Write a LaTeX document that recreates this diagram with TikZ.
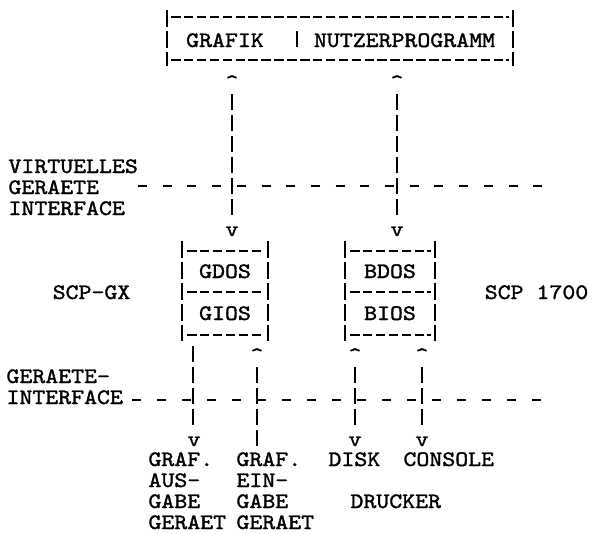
\documentclass[tikz,border=0pt]{standalone}
\usepackage{fontspec}
\usetikzlibrary{calc}
\newfontfamily\tw{lmmono10-regular}[Extension=.otf, FakeStretch=1.12, FakeBold=1.5]
\tikzset{
  txt/.style={font=\tw\fontsize{22}{22}\selectfont, inner sep=0pt, outer sep=0pt, anchor=base},
  txtl/.style={txt, anchor=base west},
  vbar/.style={line width=1.7pt, dash pattern=on 16pt off 5pt},
  sidebar/.style={line width=1.7pt, dash pattern=on 17pt off 4pt},
  hdash/.style={line width=1.8pt, dash pattern=on 9.5pt off 3.4pt},
  ifdash/.style={line width=1.8pt, dash pattern=on 9pt off 15.7pt},
  ifdashb/.style={line width=1.8pt, dash pattern=on 9pt off 16pt},
}
\begin{document}
\begin{tikzpicture}[x=1pt,y=-1pt]
\useasboundingbox[fill=white] (0,0) rectangle (596,533);
% ---- top box
\node[txt] (grafik) at (225,47) {GRAFIK};
\node[txt] (nutzer) at (404.5,47) {NUTZERPROGRAMM};
\coordinate (tl) at (167,10); \coordinate (bl) at (167,66);
\coordinate (tr) at (513,10); \coordinate (br) at (513,66);
\draw[sidebar] (tl) -- (bl);
\draw[sidebar] (tr) -- (br);
\draw[vbar] (297,31) -- (297,47);
\draw[hdash] (171,17) -- (509,17);
\draw[hdash] (171,60) -- (509,60);
% ---- upper connectors
\node[txt] (upA) at (232,89) {\textasciicircum};
\node[txt] (dnA) at (232,236) {v};
\node[txt] (upB) at (397,89) {\textasciicircum};
\node[txt] (dnB) at (397,236) {v};
\draw[vbar] ($(upA.base)+(0,5)$) -- ($(dnA.base)+(0,-21)$);
\draw[vbar] ($(upB.base)+(0,5)$) -- ($(dnB.base)+(0,-21)$);
% ---- virtual interface
\node[txtl] (virt) at (8.5,173) {VIRTUELLES};
\node[txtl] (ger1) at (8.5,194) {GERAETE};
\node[txtl] (int1) at (8.5,215) {INTERFACE};
\coordinate (ifA) at (138,186); \coordinate (ifB) at (542,186);
\draw[ifdash] (ifA) -- (ifB);
% ---- GDOS / GIOS box
\node[txt] (gdos) at (225,278) {GDOS};
\node[txt] (gios) at (225,320) {GIOS};
\draw[sidebar] (182,241) -- (182,341);
\draw[sidebar] (268,241) -- (268,341);
\draw[hdash] (187,251) -- (264,251);
\draw[hdash] (187,292) -- (264,292);
\draw[hdash] (187,335) -- (264,335);
% ---- BDOS / BIOS box
\node[txt] (bdos) at (390,278) {BDOS};
\node[txt] (bios) at (390,320) {BIOS};
\draw[sidebar] (345,241) -- (345,341);
\draw[sidebar] (435,241) -- (435,341);
\draw[hdash] (350,251) -- (431,251);
\draw[hdash] (350,292) -- (431,292);
\draw[hdash] (350,335) -- (431,335);
% ---- side labels
\node[txt] (scpgx) at (91.5,299) {SCP-GX};
\node[txt] (scp) at (536.5,299) {SCP 1700};
% ---- lower connectors
\coordinate (l1s) at (193,346);
\node[txt] (dn1) at (194,446) {v};
\node[txt] (up2) at (257,362) {\textasciicircum};
\coordinate (l2e) at (257,446);
\node[txt] (up3) at (355,362) {\textasciicircum};
\node[txt] (dn3) at (355,446) {v};
\node[txt] (up4) at (422,362) {\textasciicircum};
\node[txt] (dn4) at (422,446) {v};
\draw[vbar] (l1s) -- ($(dn1.base)+(-1,-21)$);
\draw[vbar] ($(up2.base)+(0,5)$) -- (l2e);
\draw[vbar] ($(up3.base)+(0,5)$) -- ($(dn3.base)+(0,-21)$);
\draw[vbar] ($(up4.base)+(0,5)$) -- ($(dn4.base)+(0,-21)$);
% ---- device interface
\node[txtl] (ger2) at (6.5,383) {GERAETE-};
\node[txtl] (int2) at (6.5,404) {INTERFACE};
\coordinate (ifC) at (132,400); \coordinate (ifD) at (541,400);
\draw[ifdashb] (ifC) -- (ifD);
% ---- devices
\node[txtl] (g1a) at (148.5,466) {GRAF.};
\node[txtl] (g1b) at (148.5,487) {AUS-};
\node[txtl] (g1c) at (148.5,508) {GABE};
\node[txtl] (g1d) at (148.5,529) {GERAET};
\node[txtl] (g2a) at (236.5,466) {GRAF.};
\node[txtl] (g2b) at (236.5,487) {EIN-};
\node[txtl] (g2c) at (236.5,508) {GABE};
\node[txtl] (g2d) at (236.5,529) {GERAET};
\node[txtl] (disk) at (328.5,466) {DISK};
\node[txtl] (cons) at (403.5,466) {CONSOLE};
\node[txtl] (druck) at (350.5,508) {DRUCKER};
\end{tikzpicture}
\end{document}
